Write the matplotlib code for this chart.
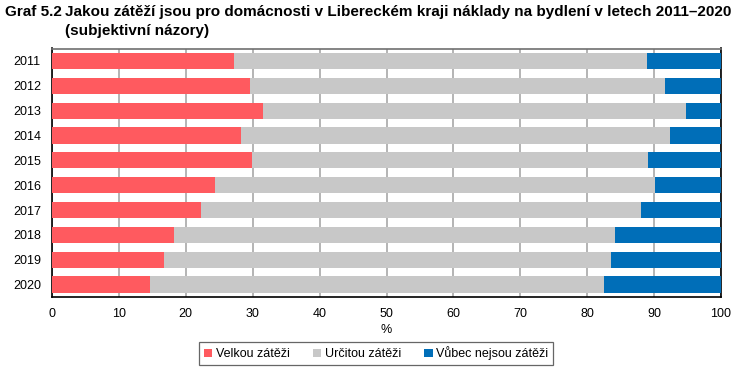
import matplotlib
matplotlib.use("Agg")
import matplotlib.pyplot as plt
from matplotlib.patches import Patch
import numpy as np

years = ["2011", "2012", "2013", "2014", "2015", "2016", "2017", "2018", "2019", "2020"]
velkou = [27.2, 29.6, 31.5, 28.2, 29.9, 24.4, 22.2, 18.2, 16.7, 14.6]
urcitou = [61.7, 62.1, 63.2, 64.2, 59.2, 65.7, 65.8, 65.9, 66.8, 67.9]
vubec = [11.1, 8.3, 5.3, 7.6, 10.9, 9.9, 12.0, 15.9, 16.5, 17.5]
series_names = ["Velkou zátěži", "Určitou zátěži", "Vůbec nejsou zátěži"]
colors = ["#FF5A5F", "#C8C8C8", "#006EB8"]
xticks = [0, 10, 20, 30, 40, 50, 60, 70, 80, 90, 100]

regular = ["Liberation Sans", "DejaVu Sans"]

fig = plt.figure(figsize=(7.4, 3.72), dpi=100)
ax = fig.add_axes([52/740, 1-297/372, (721-52)/740, (297-48.5)/372])

y = np.arange(len(years))
left = np.zeros(len(years))
for vals, c in zip([velkou, urcitou, vubec], colors):
    ax.barh(y, vals, left=left, height=0.65, color=c, zorder=3)
    left = left + np.array(vals)

ax.set_xlim(0, 100)
ax.set_ylim(len(years) - 0.5, -0.5)
ax.set_yticks(y)
ax.set_yticklabels(years, fontfamily=regular, fontsize=9)
ax.set_xticks(xticks)
ax.set_xticklabels([str(t) for t in xticks], fontfamily=regular, fontsize=9)
ax.tick_params(axis="x", length=0, pad=8)
ax.tick_params(axis="y", length=0, pad=8)
ax.xaxis.grid(True, color="#A8A8A8", linewidth=1.2, zorder=0)
ax.set_axisbelow(True)
ax.set_xlabel("%", fontfamily=regular, fontsize=9, labelpad=3)

ax.spines["left"].set_color("black")
ax.spines["bottom"].set_color("black")
ax.spines["right"].set_color("black")
ax.spines["top"].set_color("#707070")
for s in ax.spines.values():
    s.set_linewidth(1.2)

handles = [Patch(facecolor=c, edgecolor="none") for c in colors]
leg = fig.legend(handles, series_names, loc="center", bbox_to_anchor=(376/740, 1-353.5/372),
                 ncol=3, frameon=True, fancybox=False, edgecolor="#404040",
                 prop={"family": regular, "size": 9}, handlelength=0.7, handleheight=0.7,
                 handletextpad=0.3, columnspacing=1.8, borderpad=0.4)
leg.get_frame().set_linewidth(0.9)

fig.text(5/740, 1-12/372, "Graf 5.2", fontfamily=regular, fontsize=11, fontweight="bold", va="center", ha="left")
fig.text(65/740, 1-12/372, "Jakou zátěží jsou pro domácnosti v Libereckém kraji náklady na bydlení v letech 2011–2020",
         fontfamily=regular, fontsize=11, fontweight="bold", va="center", ha="left")
fig.text(65/740, 1-31/372, "(subjektivní názory)", fontfamily=regular, fontsize=11, fontweight="bold", va="center", ha="left")

fig.savefig("out.png", dpi=100)
